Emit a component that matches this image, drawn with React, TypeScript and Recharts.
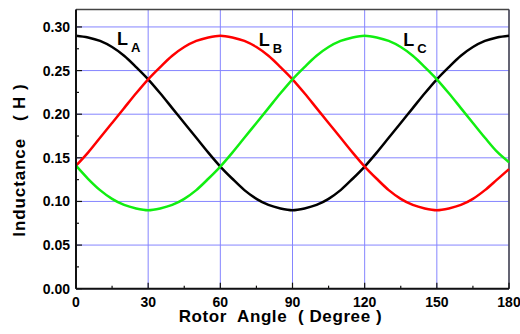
import React from "react";
import {
  LineChart,
  Line,
  XAxis,
  YAxis,
  CartesianGrid,
  ReferenceLine,
  ReferenceDot,
} from "recharts";

const angles = [
  0, 5, 10, 15, 20, 25, 30, 35, 40, 45, 50, 55, 60, 65, 70, 75, 80, 85, 90, 95,
  100, 105, 110, 115, 120, 125, 130, 135, 140, 145, 150, 155, 160, 165, 170,
  175, 180,
];
const LA = [
  0.29, 0.288, 0.284, 0.277, 0.267, 0.254, 0.24, 0.224, 0.207, 0.19, 0.173,
  0.156, 0.14, 0.126, 0.113, 0.103, 0.096, 0.092, 0.09, 0.092, 0.096, 0.103,
  0.113, 0.126, 0.14, 0.156, 0.173, 0.19, 0.207, 0.224, 0.24, 0.254, 0.267,
  0.277, 0.284, 0.288, 0.29,
];
const LB = [
  0.141, 0.156, 0.173, 0.19, 0.207, 0.224, 0.24, 0.254, 0.267, 0.277, 0.284,
  0.288, 0.29, 0.288, 0.284, 0.277, 0.267, 0.254, 0.24, 0.224, 0.207, 0.19,
  0.173, 0.156, 0.14, 0.126, 0.113, 0.103, 0.096, 0.092, 0.09, 0.092, 0.096,
  0.103, 0.113, 0.125, 0.137,
];
const LC = [
  0.141, 0.126, 0.113, 0.103, 0.096, 0.092, 0.09, 0.092, 0.096, 0.103, 0.113,
  0.126, 0.14, 0.156, 0.173, 0.19, 0.207, 0.224, 0.24, 0.254, 0.267, 0.277,
  0.284, 0.288, 0.29, 0.288, 0.284, 0.277, 0.267, 0.254, 0.24, 0.224, 0.207,
  0.19, 0.173, 0.157, 0.145,
];

const xTicks = [0, 30, 60, 90, 120, 150, 180];
const xMinor = [15, 45, 75, 105, 135, 165];
const yTicks = [0, 0.05, 0.1, 0.15, 0.2, 0.25, 0.3];
const yMinor = [0.025, 0.075, 0.125, 0.175, 0.225, 0.275];

const seriesLabels = [
  { sub: "A", x: 17, y: 0.2795 },
  { sub: "B", x: 76, y: 0.278 },
  { sub: "C", x: 136, y: 0.278 },
];

const data = angles.map((a, i) => ({ angle: a, LA: LA[i], LB: LB[i], LC: LC[i] }));

const FONT = "'Liberation Sans', Arial, sans-serif";

const makeSubLabel = (sub: string) => (p: any) => (
  <text x={p.cx} y={p.cy} fontFamily={FONT} fontWeight="bold" fill="#000">
    <tspan fontSize={18}>L</tspan>
    <tspan fontSize={13} dx={3} dy={7}>
      {sub}
    </tspan>
  </text>
);

export default function App() {
  return (
    <div style={{ position: "absolute", left: 0, top: 0, width: 520, height: 334 }}>
      <LineChart
        width={520}
        height={334}
        data={data}
        margin={{ top: 9.5, right: 11, left: 0, bottom: 0 }}
      >
        <CartesianGrid stroke="#8585ff" strokeWidth={1} />
        <XAxis
          dataKey="angle"
          type="number"
          domain={[0, 180]}
          ticks={xTicks}
          interval={0}
          height={45.3}
          tickSize={0}
          tickMargin={8}
          tickLine={false}
          axisLine={{ stroke: "#111", strokeWidth: 2 }}
          tick={{ fill: "#000", fontSize: 14, fontWeight: "bold", fontFamily: FONT }}
          label={{
            content: (p: any) => {
              const vb = p.viewBox;
              return (
                <text
                  x={vb.x + vb.width / 2 - 12}
                  y={vb.y + 33}
                  textAnchor="middle"
                  fontFamily={FONT}
                  fontWeight="bold"
                  fontSize={17}
                  letterSpacing={0.6}
                  fill="#000"
                  style={{ whiteSpace: "pre" }}
                >
                  {"Rotor  Angle  ( Degree )"}
                </text>
              );
            },
          }}
        />
        <YAxis
          type="number"
          domain={[0, 0.32]}
          ticks={yTicks}
          interval={0}
          width={76}
          tickSize={0}
          tickMargin={6}
          tickLine={false}
          axisLine={{ stroke: "#111", strokeWidth: 2 }}
          tickFormatter={(v: number) => v.toFixed(2)}
          tick={{ fill: "#000", fontSize: 14, fontWeight: "bold", fontFamily: FONT }}
          label={{
            content: (p: any) => {
              const vb = p.viewBox;
              const cx = 25.5;
              const cy = vb.y + vb.height / 2 + 11;
              return (
                <text
                  x={cx}
                  y={cy}
                  transform={`rotate(-90 ${cx} ${cy})`}
                  textAnchor="middle"
                  fontFamily={FONT}
                  fontWeight="bold"
                  fontSize={17}
                  letterSpacing={0.9}
                  fill="#000"
                  style={{ whiteSpace: "pre" }}
                >
                  {"Inductance   ( H )"}
                </text>
              );
            },
          }}
        />
        <ReferenceLine y={0.32} stroke="#444" strokeWidth={1.5} />
        <ReferenceLine x={180} stroke="#444" strokeWidth={1.5} />
        {xTicks.map((t) => (
          <ReferenceLine
            key={"xM" + t}
            segment={[
              { x: t, y: 0 },
              { x: t, y: 0.0069 },
            ]}
            stroke="#111"
            strokeWidth={1.2}
            ifOverflow="visible"
          />
        ))}
        {xMinor.map((t) => (
          <ReferenceLine
            key={"xm" + t}
            segment={[
              { x: t, y: 0 },
              { x: t, y: 0.0035 },
            ]}
            stroke="#111"
            strokeWidth={1.2}
            ifOverflow="visible"
          />
        ))}
        {yTicks.map((t) => (
          <ReferenceLine
            key={"yM" + t}
            segment={[
              { x: 0, y: t },
              { x: 2.5, y: t },
            ]}
            stroke="#111"
            strokeWidth={1.2}
            ifOverflow="visible"
          />
        ))}
        {yMinor.map((t) => (
          <ReferenceLine
            key={"ym" + t}
            segment={[
              { x: 0, y: t },
              { x: 1.25, y: t },
            ]}
            stroke="#111"
            strokeWidth={1.2}
            ifOverflow="visible"
          />
        ))}
        <Line
          type="monotone"
          dataKey="LA"
          stroke="#000000"
          strokeWidth={2.5}
          dot={false}
          isAnimationActive={false}
        />
        <Line
          type="monotone"
          dataKey="LB"
          stroke="#ff0000"
          strokeWidth={2.5}
          dot={false}
          isAnimationActive={false}
        />
        <Line
          type="monotone"
          dataKey="LC"
          stroke="#11ee11"
          strokeWidth={2.5}
          dot={false}
          isAnimationActive={false}
        />
        {seriesLabels.map((l) => (
          <ReferenceDot
            key={l.sub}
            x={l.x}
            y={l.y}
            r={0}
            shape={makeSubLabel(l.sub)}
          />
        ))}
      </LineChart>
    </div>
  );
}
